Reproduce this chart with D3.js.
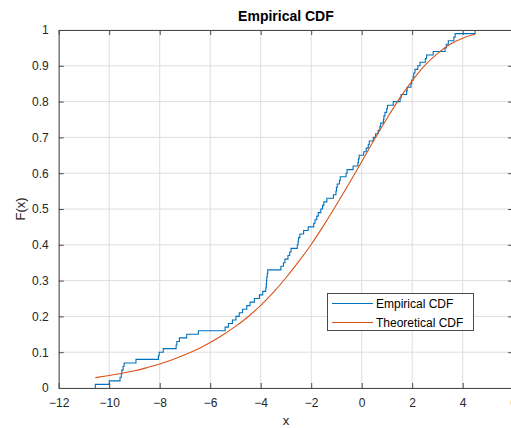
<!DOCTYPE html>
<html><head><meta charset="utf-8">
<script src="https://cdn.jsdelivr.net/npm/d3@7"></script>
<style>
html,body{margin:0;padding:0;background:#fff;overflow:hidden}
svg{display:block;font-family:"Liberation Sans",Arial,Helvetica,sans-serif}
</style></head>
<body><svg id="chart" width="511" height="428"></svg>
<script>
// Empirical CDF step points: x where a jump occurs, level after jump
const ecdfX = [-10.55,-10.0,-9.57,-9.52,-9.5,-9.45,-9.41,-8.94,-8.05,-8.02,-7.86,-7.35,-7.32,-7.22,-6.93,-6.47,-5.41,-5.28,-5.12,-4.98,-4.85,-4.72,-4.55,-4.42,-4.25,-4.05,-3.92,-3.80,-3.78,-3.77,-3.76,-3.74,-3.72,-3.20,-3.10,-3.04,-2.92,-2.85,-2.80,-2.55,-2.52,-2.50,-2.45,-2.30,-2.12,-1.90,-1.85,-1.78,-1.72,-1.62,-1.55,-1.50,-1.38,-1.12,-1.02,-1.0,-0.97,-0.88,-0.85,-0.62,-0.58,-0.34,-0.15,-0.13,-0.10,0.08,0.18,0.26,0.30,0.46,0.55,0.65,0.72,0.75,0.86,0.88,0.92,0.99,1.02,1.25,1.52,1.56,1.78,1.80,1.95,1.98,2.04,2.06,2.11,2.22,2.31,2.52,2.57,2.83,3.30,3.35,3.43,3.65,3.70,4.49];
const ecdfY = [0.01,0.02,0.03,0.04,0.05,0.06,0.07,0.08,0.09,0.10,0.11,0.12,0.13,0.14,0.15,0.16,0.17,0.18,0.19,0.20,0.21,0.22,0.23,0.24,0.25,0.26,0.27,0.28,0.29,0.30,0.31,0.32,0.33,0.34,0.35,0.36,0.37,0.38,0.39,0.40,0.41,0.42,0.43,0.44,0.45,0.46,0.47,0.48,0.49,0.50,0.51,0.52,0.53,0.54,0.55,0.56,0.57,0.58,0.59,0.60,0.61,0.62,0.63,0.64,0.65,0.66,0.67,0.68,0.69,0.70,0.71,0.72,0.73,0.74,0.75,0.76,0.77,0.78,0.79,0.80,0.81,0.82,0.83,0.84,0.85,0.86,0.87,0.88,0.89,0.90,0.91,0.92,0.93,0.94,0.95,0.96,0.97,0.98,0.99,1.00];
// Theoretical CDF points
const theoX = [-10.55,-10,-9.5,-9,-8.5,-8,-7.5,-7,-6.5,-6,-5.5,-5,-4.5,-4,-3.5,-3,-2.5,-2,-1.5,-1,-0.5,0,0.5,1,1.5,2,2.5,3,3.5,4,4.49];
const theoY = [0.029,0.035,0.041,0.048,0.057,0.067,0.079,0.093,0.108,0.127,0.148,0.172,0.199,0.231,0.267,0.308,0.353,0.401,0.455,0.512,0.571,0.632,0.694,0.753,0.809,0.858,0.901,0.934,0.960,0.977,0.988];
const xTicks = [-12,-10,-8,-6,-4,-2,0,2,4,6];
const yTicks = [0,0.1,0.2,0.3,0.4,0.5,0.6,0.7,0.8,0.9,1];
const legendLabels = ["Empirical CDF","Theoretical CDF"];
const colors = ["#0072BD","#D95319"];

const svg = d3.select("#chart");
const L = 58.7, R = 513.2, T = 30, B = 388;
const x = d3.scaleLinear().domain([-12,6]).range([L,R]);
const y = d3.scaleLinear().domain([0,1]).range([B,T]);
const axisColor = "#262626";
const frameColor = "#4a4a4a";

// grid
const g = svg.append("g");
g.selectAll(".gx").data(xTicks).enter().append("line")
  .attr("x1",d=>x(d)).attr("x2",d=>x(d)).attr("y1",T).attr("y2",B)
  .attr("stroke","#dedede").attr("stroke-width",1);
g.selectAll(".gy").data(yTicks).enter().append("line")
  .attr("x1",L).attr("x2",R).attr("y1",d=>y(d)).attr("y2",d=>y(d))
  .attr("stroke","#dedede").attr("stroke-width",1);

// data
const ecdfPts = [[ecdfX[0],0]].concat(ecdfX.map((v,i)=>[v,ecdfY[i]]));
const stepLine = d3.line().x(d=>x(d[0])).y(d=>y(d[1])).curve(d3.curveStepAfter);
svg.append("path").datum(ecdfPts).attr("d",stepLine)
  .attr("fill","none").attr("stroke",colors[0]).attr("stroke-width",1.1);
const smooth = d3.line().x(d=>x(d[0])).y(d=>y(d[1])).curve(d3.curveMonotoneX);
svg.append("path").datum(theoX.map((v,i)=>[v,theoY[i]])).attr("d",smooth)
  .attr("fill","none").attr("stroke",colors[1]).attr("stroke-width",1.1);

// axes
const tickLen = 5;
const xAxisB = d3.axisBottom(x).tickValues(xTicks).tickSizeInner(-tickLen).tickSizeOuter(0).tickPadding(10).tickFormat(d3.format("d"));
const xAxisT = d3.axisTop(x).tickValues(xTicks).tickSizeInner(-tickLen).tickSizeOuter(0).tickFormat("");
const yAxisL = d3.axisLeft(y).tickValues(yTicks).tickSizeInner(-tickLen).tickSizeOuter(0).tickPadding(10).tickFormat(d=>d===0?"0":d===1?"1":d3.format(".1f")(d));
const yAxisR = d3.axisRight(y).tickValues(yTicks).tickSizeInner(-tickLen).tickSizeOuter(0).tickFormat("");
function style(sel){
  sel.selectAll("path").attr("stroke",frameColor).attr("stroke-width",1);
  sel.selectAll("line").attr("stroke",frameColor).attr("stroke-width",1);
  sel.selectAll("text").attr("fill",axisColor).style("font-size","12px").style("font-family","'Liberation Sans',Arial,sans-serif");
}
svg.append("g").attr("transform",`translate(0,${B})`).call(xAxisB).call(style);
svg.append("g").attr("transform",`translate(0,${T})`).call(xAxisT).call(style);
svg.append("g").attr("transform",`translate(${L},0)`).call(yAxisL).call(style);
svg.append("g").attr("transform",`translate(${R},0)`).call(yAxisR).call(style);

// titles
svg.append("text").attr("x",(L+R)/2).attr("y",21).attr("text-anchor","middle")
  .style("font-size","14px").style("font-weight","bold").attr("fill","#000").text("Empirical CDF");
svg.append("text").attr("x",(L+R)/2).attr("y",425).attr("text-anchor","middle")
  .style("font-size","13px").attr("fill",axisColor).text("x");
svg.append("text").attr("transform",`translate(25,${(T+B)/2}) rotate(-90)`).attr("text-anchor","middle")
  .style("font-size","13px").attr("fill",axisColor).text("F(x)");

// legend
const lg = svg.append("g");
lg.append("rect").attr("x",327.5).attr("y",293.5).attr("width",146).attr("height",37)
  .attr("fill","#fff").attr("stroke",frameColor).attr("stroke-width",1);
legendLabels.forEach((lab,i)=>{
  const yy = 303.5 + i*19;
  lg.append("line").attr("x1",332).attr("x2",373).attr("y1",yy).attr("y2",yy)
    .attr("stroke",colors[i]).attr("stroke-width",1);
  lg.append("text").attr("x",376).attr("y",yy+4.5).style("font-size","12px")
    .attr("fill","#000").text(lab);
});
</script></body></html>
